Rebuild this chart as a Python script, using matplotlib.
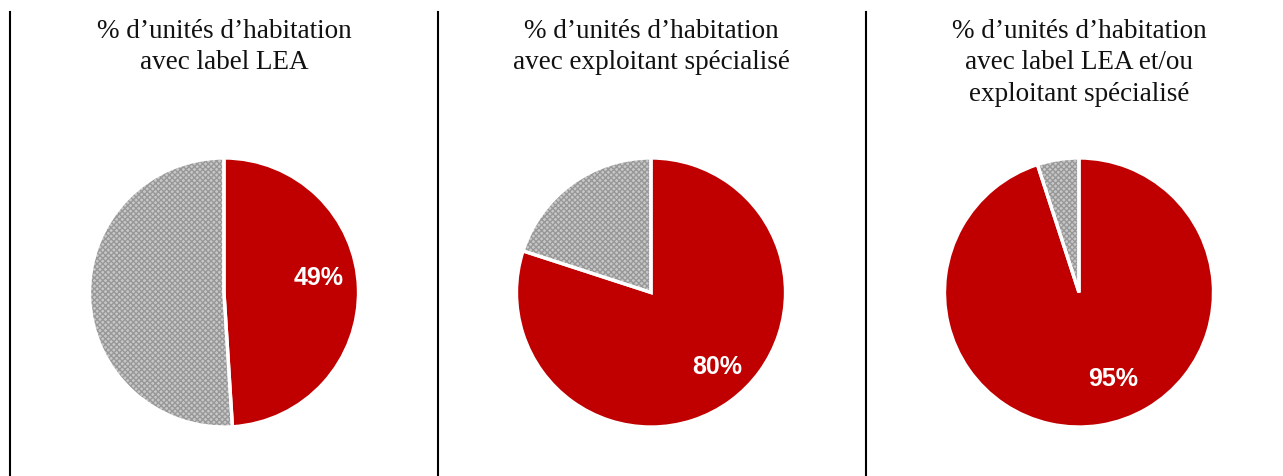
import matplotlib
matplotlib.use("Agg")
import matplotlib.pyplot as plt

titles = [
    "% d’unités d’habitation\navec label LEA",
    "% d’unités d’habitation\navec exploitant spécialisé",
    "% d’unités d’habitation\navec label LEA et/ou\nexploitant spécialisé",
]
shares = [49, 80, 95]  # percentage of dwellings, red slice
# label placement as fraction of the radius (x, y) from the pie centre
label_pos = [(0.70, 0.112), (0.49, -0.545), (0.254, -0.634)]

RED = "#C00000"
GREY_BG = "#c8c8c8"
GREY_HATCH = "#989898"

W, H = 1283, 477
fig = plt.figure(figsize=(W / 100, H / 100), dpi=100)

centres_x = [224, 651, 1079]
cy = 293.5
r = 134.5
pad = 1.02
ra = r * pad

for title, share, (lx, ly), cx in zip(titles, shares, label_pos, centres_x):
    ax = fig.add_axes([(cx - ra) / W, (H - cy - ra) / H, 2 * ra / W, 2 * ra / H])
    vals = [share, 100 - share]
    wedges, _ = ax.pie(vals, colors=[RED, GREY_BG], startangle=90, counterclock=False,
                       radius=1.0, wedgeprops=dict(linewidth=0))
    wedges[1].set_hatch("xxxxxx")
    wedges[1].set_edgecolor(GREY_HATCH)
    wedges[1].set_linewidth(0)
    # white separators drawn on top
    ax.pie(vals, colors=["none", "none"], startangle=90, counterclock=False, radius=1.0,
           wedgeprops=dict(linewidth=2.4, edgecolor="white", fill=False))
    ax.set_xlim(-pad, pad)
    ax.set_ylim(-pad, pad)
    ax.set_aspect("equal")
    ax.axis("off")
    ax.text(lx, ly, f"{share}%", color="white", fontsize=18, fontweight="bold",
            family="Liberation Sans", ha="center", va="center")
    fig.text(cx / W, 1 - 19 / H, title, ha="center", va="top", fontsize=19.5,
             family="Liberation Serif", linespacing=1.33, color="#111111")

# vertical separators
for x in [10, 437.5, 866]:
    fig.add_artist(plt.Line2D([x / W, x / W], [0, 1 - 13 / H], color="black", linewidth=1.5,
                              transform=fig.transFigure))

fig.savefig("out.png", dpi=100, facecolor="white")
